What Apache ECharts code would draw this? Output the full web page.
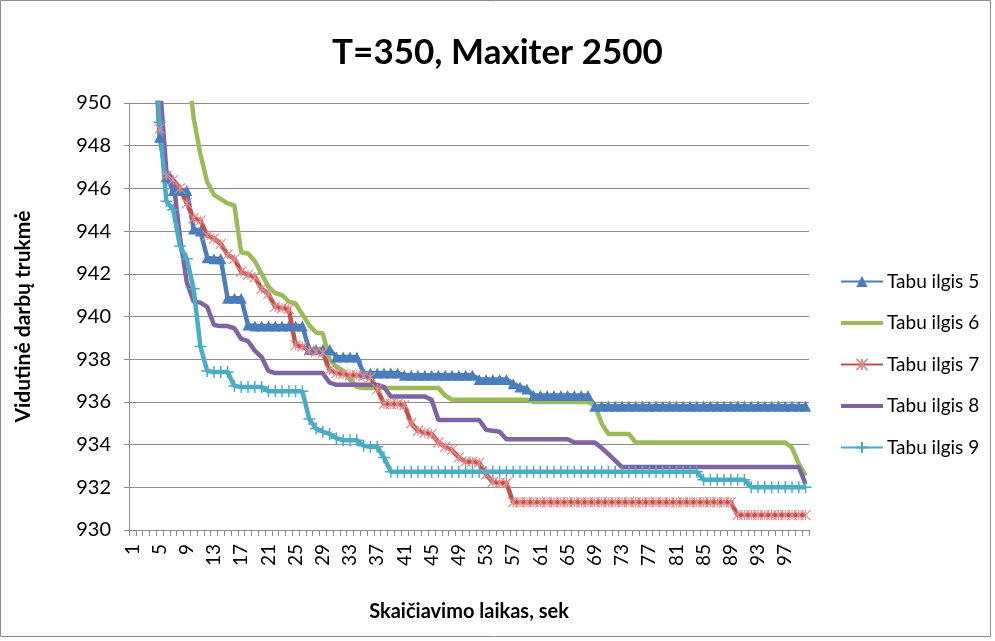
<!DOCTYPE html>
<html>
<head>
<meta charset="utf-8">
<script src="https://cdn.jsdelivr.net/npm/echarts@6/dist/echarts.min.js"></script>
<style>
  html, body { margin: 0; padding: 0; background: #fff; }
  #chart { width: 995px; height: 641px; }
</style>
</head>
<body>
<div id="chart"></div>
<script>
// Computation time in seconds, one category per second
const seconds = Array.from({ length: 100 }, (_, i) => String(i + 1));

const seriesNames = ['Tabu ilgis 5', 'Tabu ilgis 6', 'Tabu ilgis 7', 'Tabu ilgis 8', 'Tabu ilgis 9'];

// Average makespan per second of computation (values above 950 lie beyond the axis)
const tabu5 = [
  985, 972, 963, 955, 948.4, 946.55, 945.9, 945.9, 945.9, 944.1,
  944.0, 942.75, 942.7, 942.7, 940.85, 940.85, 940.85, 939.6, 939.55, 939.55,
  939.55, 939.55, 939.55, 939.55, 939.55, 939.55, 938.45, 938.45, 938.45, 938.45,
  938.1, 938.1, 938.1, 938.1, 937.35, 937.35, 937.35, 937.35, 937.35, 937.35,
  937.25, 937.25, 937.25, 937.25, 937.25, 937.25, 937.25, 937.25, 937.25, 937.25,
  937.25, 937.05, 937.05, 937.05, 937.05, 937.05, 936.85, 936.7, 936.6, 936.3,
  936.3, 936.3, 936.3, 936.3, 936.3, 936.3, 936.3, 936.3, 935.8, 935.8,
  935.8, 935.8, 935.8, 935.8, 935.8, 935.8, 935.8, 935.8, 935.8, 935.8,
  935.8, 935.8, 935.8, 935.8, 935.8, 935.8, 935.8, 935.8, 935.8, 935.8,
  935.8, 935.8, 935.8, 935.8, 935.8, 935.8, 935.8, 935.8, 935.8, 935.8
];

const tabu6 = [
  985, 978, 972, 967, 963, 960, 957, 954.5, 952.3, 949.3,
  947.6, 946.3, 945.7, 945.5, 945.3, 945.2, 943.0, 942.95, 942.6, 942.0,
  941.4, 941.1, 941.0, 940.7, 940.6, 940.1, 939.6, 939.25, 939.2, 938.0,
  937.65, 937.45, 937.05, 936.7, 936.65, 936.65, 936.65, 936.65, 936.65, 936.65,
  936.65, 936.65, 936.65, 936.65, 936.65, 936.65, 936.3, 936.1, 936.1, 936.1,
  936.1, 936.1, 936.1, 936.1, 936.1, 936.1, 936.1, 936.1, 936.1, 936.0,
  936.0, 936.0, 936.0, 936.0, 936.0, 936.0, 936.0, 936.0, 935.85, 935.0,
  934.5, 934.5, 934.5, 934.5, 934.1, 934.1, 934.1, 934.1, 934.1, 934.1,
  934.1, 934.1, 934.1, 934.1, 934.1, 934.1, 934.1, 934.1, 934.1, 934.1,
  934.1, 934.1, 934.1, 934.1, 934.1, 934.1, 934.1, 933.85, 933.1, 932.55
];

const tabu7 = [
  985, 972, 962, 953.5, 948.8, 946.6, 946.4, 946.0, 945.3, 944.6,
  944.5, 943.8, 943.65, 943.4, 942.9, 942.7, 942.1, 941.95, 941.85, 941.3,
  941.05, 940.45, 940.4, 940.35, 938.65, 938.6, 938.4, 938.35, 938.3, 937.5,
  937.35, 937.3, 937.25, 937.25, 937.2, 937.15, 936.6, 935.9, 935.9, 935.9,
  935.85, 935.0, 934.65, 934.55, 934.5, 934.1, 933.9, 933.75, 933.4, 933.2,
  933.2, 933.15, 932.6, 932.25, 932.2, 932.2, 931.3, 931.3, 931.3, 931.3,
  931.3, 931.3, 931.3, 931.3, 931.3, 931.3, 931.3, 931.3, 931.3, 931.3,
  931.3, 931.3, 931.3, 931.3, 931.3, 931.3, 931.3, 931.3, 931.3, 931.3,
  931.3, 931.3, 931.3, 931.3, 931.3, 931.3, 931.3, 931.3, 931.3, 930.7,
  930.7, 930.7, 930.7, 930.7, 930.7, 930.7, 930.7, 930.7, 930.7, 930.7
];

const tabu8 = [
  985, 975, 965, 957, 951.0, 946.8, 946.4, 943.7, 941.6, 940.7,
  940.65, 940.45, 939.6, 939.55, 939.55, 939.45, 938.95, 938.85, 938.4, 938.1,
  937.45, 937.35, 937.35, 937.35, 937.35, 937.35, 937.35, 937.35, 937.35, 936.9,
  936.8, 936.8, 936.8, 936.8, 936.8, 936.8, 936.8, 936.7, 936.25, 936.25,
  936.25, 936.25, 936.25, 936.25, 936.1, 935.15, 935.15, 935.15, 935.15, 935.15,
  935.15, 935.15, 934.7, 934.65, 934.6, 934.25, 934.25, 934.25, 934.25, 934.25,
  934.25, 934.25, 934.25, 934.25, 934.25, 934.1, 934.1, 934.1, 934.1, 933.85,
  933.55, 933.25, 932.95, 932.95, 932.95, 932.95, 932.95, 932.95, 932.95, 932.95,
  932.95, 932.95, 932.95, 932.95, 932.95, 932.95, 932.95, 932.95, 932.95, 932.95,
  932.95, 932.95, 932.95, 932.95, 932.95, 932.95, 932.95, 932.95, 932.95, 932.15
];

const tabu9 = [
  985, 972, 962, 954, 949.1, 945.4, 945.0, 943.3, 942.7, 941.3,
  938.6, 937.45, 937.4, 937.4, 937.4, 936.75, 936.7, 936.7, 936.7, 936.7,
  936.5, 936.5, 936.5, 936.5, 936.5, 936.5, 935.2, 934.75, 934.6, 934.5,
  934.3, 934.2, 934.2, 934.2, 933.95, 933.9, 933.9, 933.4, 932.73, 932.73,
  932.73, 932.73, 932.73, 932.73, 932.73, 932.73, 932.73, 932.73, 932.73, 932.73,
  932.73, 932.73, 932.73, 932.73, 932.73, 932.73, 932.73, 932.73, 932.73, 932.73,
  932.73, 932.73, 932.73, 932.73, 932.73, 932.73, 932.73, 932.73, 932.73, 932.73,
  932.73, 932.73, 932.73, 932.73, 932.73, 932.73, 932.73, 932.73, 932.73, 932.73,
  932.73, 932.73, 932.73, 932.73, 932.35, 932.35, 932.35, 932.35, 932.35, 932.35,
  932.35, 932.0, 932.0, 932.0, 932.0, 932.0, 932.0, 932.0, 932.0, 932.0
];

const FONT = 'Lato';
const GRID_COLOR = '#8c8c8c';

const asterisk = 'path://M0,0L10,10M10,0L0,10M5,0L5,10';
const plus = 'path://M5,0L5,10M0,5L10,5';
// plain line swatch for the series drawn without markers
const lineSwatch = 'path://M0,0L42,0L42,4L0,4Z';

function lineSeries(name, data, color, symbol, symbolSize, itemStyle) {
  return {
    name: name,
    type: 'line',
    data: data,
    clip: true,
    showAllSymbol: true,
    symbol: symbol,
    symbolSize: symbolSize,
    lineStyle: { color: color, width: 4.5 },
    itemStyle: itemStyle || { color: color },
    emphasis: { disabled: true }
  };
}

const chart = echarts.init(document.getElementById('chart'), null, { renderer: 'canvas' });

chart.setOption({
  backgroundColor: '#ffffff',
  animation: false,
  textStyle: { fontFamily: FONT },
  title: {
    text: 'T=350, Maxiter 2500',
    left: 'center',
    top: 30,
    textStyle: { fontFamily: FONT, fontSize: 35, fontWeight: 'bold', color: '#000' }
  },
  legend: {
    orient: 'vertical',
    left: 840,
    top: 272,
    padding: 0,
    itemWidth: 42,
    itemHeight: 14,
    itemGap: 22.5,
    data: [
      { name: seriesNames[0] },
      { name: seriesNames[1], icon: lineSwatch },
      { name: seriesNames[2] },
      { name: seriesNames[3], icon: lineSwatch },
      { name: seriesNames[4] }
    ],
    textStyle: { fontFamily: FONT, fontSize: 19, color: '#000', padding: [0, 0, 0, -1] }
  },
  grid: { left: 129, right: 186, top: 103, bottom: 111, containLabel: false },
  xAxis: {
    type: 'category',
    data: seconds,
    boundaryGap: true,
    name: 'Skaičiavimo laikas, sek',
    nameLocation: 'middle',
    nameGap: 72,
    nameTextStyle: { fontFamily: FONT, fontSize: 20, fontWeight: 'bold', color: '#000' },
    axisLine: { lineStyle: { color: GRID_COLOR, width: 1 } },
    axisTick: { show: true, interval: 0, length: 6, lineStyle: { color: GRID_COLOR } },
    axisLabel: { interval: 3, rotate: 90, fontSize: 19, color: '#000', margin: 14, fontFamily: FONT },
    splitLine: { show: false }
  },
  yAxis: {
    type: 'value',
    min: 930,
    max: 950,
    interval: 2,
    name: 'Vidutinė darbų trukmė',
    nameLocation: 'middle',
    nameGap: 95,
    nameTextStyle: { fontFamily: FONT, fontSize: 21, fontWeight: 'bold', color: '#000' },
    axisLine: { show: true, lineStyle: { color: GRID_COLOR, width: 1 } },
    axisTick: { show: true, length: 5, lineStyle: { color: GRID_COLOR } },
    axisLabel: { fontSize: 20, color: '#000', margin: 18, fontFamily: FONT },
    splitLine: { show: true, lineStyle: { color: GRID_COLOR, width: 1 } }
  },
  graphic: [{
    type: 'rect',
    shape: { x: 0.5, y: 0.5, width: 990, height: 636 },
    style: { fill: 'none', stroke: '#8c8c8c', lineWidth: 1 },
    silent: true
  }],
  series: [
    lineSeries(seriesNames[0], tabu5, '#4A7EBB', 'triangle', 11),
    lineSeries(seriesNames[1], tabu6, '#9BBB59', 'none', 0),
    lineSeries(seriesNames[2], tabu7, '#C0504D', asterisk, 10,
      { color: 'rgba(0,0,0,0)', borderColor: '#E58A88', borderWidth: 1.2 }),
    lineSeries(seriesNames[3], tabu8, '#8064A2', 'none', 0),
    lineSeries(seriesNames[4], tabu9, '#4BACC6', plus, 12,
      { color: 'rgba(0,0,0,0)', borderColor: '#4BACC6', borderWidth: 1.5 })
  ]
});
</script>
</body>
</html>
